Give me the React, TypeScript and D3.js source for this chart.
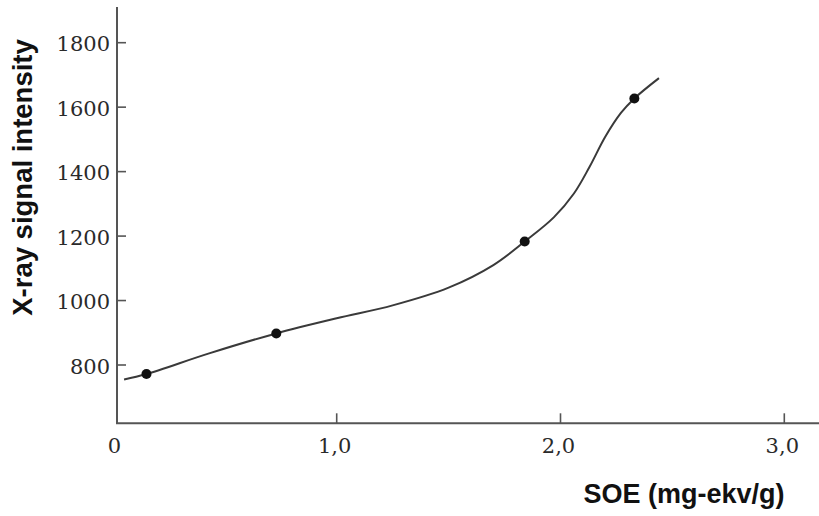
import React, { useEffect, useRef } from "react";
import * as d3 from "d3";

// Measured points (SOE, mg-ekv/g  vs  X-ray signal intensity)
const pointSOE = [0.15, 0.73, 1.84, 2.33];
const pointIntensity = [772, 898, 1183, 1627];

// Fitted calibration curve, traced along its path
const curveSOE = [0.05, 0.15, 0.43, 0.73, 1.0, 1.25, 1.5, 1.7, 1.84, 1.97, 2.06, 2.13, 2.2, 2.27, 2.33, 2.44];
const curveIntensity = [755, 772, 836, 898, 945, 985, 1040, 1110, 1183, 1258, 1332, 1415, 1508, 1582, 1627, 1690];

const xTickValues = [1, 2, 3];
const xTickLabels = ["1,0", "2,0", "3,0"];
const yTickValues = [800, 1000, 1200, 1400, 1600, 1800];

const xTitle = "SOE (mg-ekv/g)";
const yTitle = "X-ray signal intensity";

const W = 819;
const H = 516;

export default function App() {
  const ref = useRef<SVGSVGElement | null>(null);

  useEffect(() => {
    const svg = d3.select(ref.current);
    svg.selectAll("*").remove();

    const x = d3.scaleLinear().domain([1, 3]).range([336.7, 784.3]);
    const y = d3.scaleLinear().domain([800, 1800]).range([365, 42.7]);

    const axisX0 = 117;
    const axisY0 = 423.3;
    const axisColor = "#555";
    const tickFont = "'DejaVu Serif', serif";

    // axes
    svg.append("line")
      .attr("x1", axisX0).attr("x2", axisX0)
      .attr("y1", 7).attr("y2", axisY0)
      .attr("stroke", axisColor).attr("stroke-width", 2);
    svg.append("line")
      .attr("x1", axisX0 - 1).attr("x2", W)
      .attr("y1", axisY0).attr("y2", axisY0)
      .attr("stroke", axisColor).attr("stroke-width", 2);

    // y ticks (pointing inward) and labels
    const yt = svg.append("g");
    yTickValues.forEach((v) => {
      yt.append("line")
        .attr("x1", axisX0).attr("x2", axisX0 + 9)
        .attr("y1", y(v)).attr("y2", y(v))
        .attr("stroke", axisColor).attr("stroke-width", 1.6);
      yt.append("text")
        .attr("x", 110).attr("y", y(v) + 8.5)
        .attr("text-anchor", "end")
        .attr("font-family", tickFont)
        .attr("font-size", 21)
        .attr("fill", "#2a2a2a")
        .text(String(v));
    });

    // x ticks (pointing inward) and labels
    const xt = svg.append("g");
    xTickValues.forEach((v, i) => {
      xt.append("line")
        .attr("x1", x(v)).attr("x2", x(v))
        .attr("y1", axisY0).attr("y2", axisY0 - 10)
        .attr("stroke", axisColor).attr("stroke-width", 1.6);
      xt.append("text")
        .attr("x", x(v) - 2).attr("y", 453)
        .attr("text-anchor", "middle")
        .attr("font-family", tickFont)
        .attr("font-size", 21)
        .attr("fill", "#2a2a2a")
        .text(xTickLabels[i]);
    });
    xt.append("text")
      .attr("x", 114.5).attr("y", 453)
      .attr("text-anchor", "middle")
      .attr("font-family", tickFont)
      .attr("font-size", 21)
      .attr("fill", "#2a2a2a")
      .text("0");

    // curve
    const pts: [number, number][] = curveSOE.map((s, i) => [x(s), y(curveIntensity[i])]);
    const line = d3.line<[number, number]>()
      .x((d) => d[0]).y((d) => d[1])
      .curve(d3.curveCatmullRom.alpha(0.5));
    svg.append("path")
      .attr("d", line(pts) || "")
      .attr("fill", "none")
      .attr("stroke", "#3a3a3a")
      .attr("stroke-width", 2);

    // markers
    svg.append("g").selectAll("circle")
      .data(pointSOE.map((s, i) => [s, pointIntensity[i]]))
      .join("circle")
      .attr("cx", (d) => x(d[0]))
      .attr("cy", (d) => y(d[1]))
      .attr("r", 5)
      .attr("fill", "#111");

    // titles
    svg.append("text")
      .attr("x", 684).attr("y", 503)
      .attr("text-anchor", "middle")
      .attr("font-family", "'Liberation Sans', Arial, sans-serif")
      .attr("font-weight", "bold")
      .attr("font-size", 27)
      .attr("fill", "#111")
      .text(xTitle);
    svg.append("text")
      .attr("transform", "translate(32,177.5) rotate(-90)")
      .attr("text-anchor", "middle")
      .attr("font-family", "'Liberation Sans', Arial, sans-serif")
      .attr("font-weight", "bold")
      .attr("font-size", 27.5)
      .attr("fill", "#111")
      .text(yTitle);
  }, []);

  return (
    <div style={{ position: "fixed", left: 0, top: 0 }}>
      <svg ref={ref} width={W} height={H} style={{ display: "block", background: "#fff" }} />
    </div>
  );
}
